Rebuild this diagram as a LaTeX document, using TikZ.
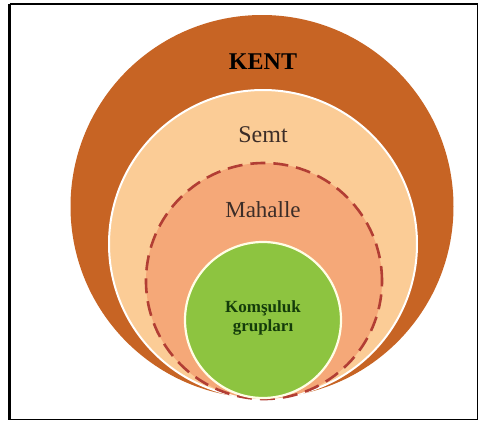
\documentclass[tikz,border=0pt]{standalone}
\usepackage{fontspec}
\setmainfont{Liberation Serif}
\definecolor{kentc}{RGB}{199,100,36}
\definecolor{semtc}{RGB}{251,204,150}
\definecolor{mahc}{RGB}{245,168,120}
\definecolor{dashc}{RGB}{178,62,52}
\definecolor{greenc}{RGB}{141,196,64}
\definecolor{txtgreen}{RGB}{20,60,10}
\definecolor{txtgray}{RGB}{60,45,40}
\tikzset{
  ring/.style={circle, inner sep=0pt, outer sep=0pt},
  lbl/.style={inner sep=0pt, align=center},
}
\begin{document}
\begin{tikzpicture}[x=1pt,y=-1pt]
\useasboundingbox (0,0) rectangle (480,421);
\fill[white] (0,0) rectangle (480,421);
\node[ring, fill=kentc, minimum size=383pt] (kent) at (262,206.5) {};
\node[ring, fill=semtc, draw=white, line width=2pt, minimum size=308pt] (semt) at (263,244) {};
\node[ring, fill=mahc, draw=dashc, dash pattern=on 15pt off 8pt, line width=2.6pt, minimum size=236pt] (mah) at (264,281) {};
\node[ring, fill=greenc, draw=white!90!yellow, line width=2.2pt, minimum size=156pt] (kom) at (263,320) {};
\node[lbl, font=\bfseries\fontsize{24}{26}\selectfont] (t1) at (263,62) {KENT};
\node[lbl, text=txtgray, font=\fontsize{24}{26}\selectfont] (t2) at (263,135) {Semt};
\node[lbl, text=txtgray, font=\fontsize{23}{25}\selectfont] (t3) at (263,210) {Mahalle};
\node[lbl, text=txtgreen, font=\bfseries\fontsize{17}{19}\selectfont] (t4) at (263,318) {Komşuluk\\grupları};
\draw[black, line width=2.5pt] (9.7,3.8) -- (478,3.8);
\draw[black, line width=2.5pt] (9.7,3.8) -- (9.7,419.8);
\draw[black, line width=1.8pt] (9.7,419.5) -- (478,419.5);
\draw[black, line width=1.8pt] (477.5,3.8) -- (477.5,419.5);
\end{tikzpicture}
\end{document}
